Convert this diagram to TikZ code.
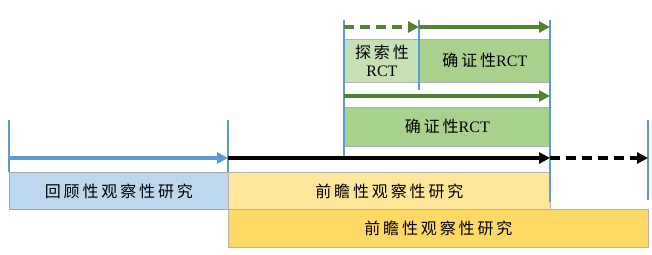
\documentclass[tikz,border=0pt]{standalone}
\usepackage{fontspec}
\setmainfont{Liberation Serif}
\newfontfamily\cjk[LetterSpace=18]{Noto Sans CJK SC}
\usetikzlibrary{arrows.meta}
\definecolor{vline}{HTML}{5B9BD5}
\definecolor{garrow}{HTML}{548235}
\definecolor{gbox}{HTML}{A9D18E}
\definecolor{glight}{HTML}{C5E0B4}
\definecolor{bbox}{HTML}{BDD7EE}
\definecolor{ylight}{HTML}{FFE699}
\definecolor{ydark}{HTML}{FFD966}
\tikzset{
  box/.style={draw=#1, line width=0.8pt, anchor=north west, inner sep=0pt, align=center, font=\fontsize{16}{18}\selectfont},
  vmark/.style={draw=vline, line width=1.8pt},
  garr/.style={draw=garrow, line width=3.5pt, -{Triangle[length=11pt,width=11pt]}},
  barr/.style={draw=vline, line width=3.5pt, -{Triangle[length=11pt,width=11pt]}},
  karr/.style={draw=black, line width=3.5pt, -{Triangle[length=11pt,width=11pt]}},
}
\begin{document}
\begin{tikzpicture}[x=1pt,y=-1pt]
\useasboundingbox (0,0) rectangle (652,254);
% boxes
\node[box=gray!60, fill=glight, minimum width=75pt, minimum height=43pt] (explore) at (344,39) {{\cjk 探索性}\\RCT};
\node[box=gray!60, fill=gbox, minimum width=131pt, minimum height=43pt] (conf1) at (419,39) {{\cjk 确证性}RCT};
\node[box=gray!60, fill=gbox, minimum width=206pt, minimum height=39pt] (conf2) at (344,107) {{\cjk 确证性}RCT};
\node[box=gray!70, fill=bbox, minimum width=219pt, minimum height=37pt] (retro) at (9,172) {\cjk 回顾性观察性研究};
\node[box=gray!60, fill=ylight, minimum width=322pt, minimum height=37pt] (pro1) at (228,172) {\cjk 前瞻性观察性研究};
\node[box=gray!60, fill=ydark, minimum width=420pt, minimum height=38pt] (pro2) at (228,209) {\cjk 前瞻性观察性研究};
% vertical markers
\coordinate (a1) at (9,120);   \coordinate (a2) at (9,172);
\coordinate (b1) at (228,120); \coordinate (b2) at (228,172);
\coordinate (c1) at (344,20);  \coordinate (c2) at (344,158);
\coordinate (d1) at (419,20);  \coordinate (d2) at (419,90);
\coordinate (e1) at (550,20);  \coordinate (e2) at (550,202);
\coordinate (f1) at (648,120); \coordinate (f2) at (648,200);
\foreach \p in {a,b,c,d,e,f} \draw[vmark] (\p1) -- (\p2);
% arrow anchors
\coordinate (g0) at (344,27); \coordinate (g1) at (419,27); \coordinate (g2) at (550,27);
\coordinate (m0) at (344,96); \coordinate (m1) at (550,96);
\coordinate (t0) at (9,158); \coordinate (t1) at (228,158); \coordinate (t2) at (550,158); \coordinate (t3) at (648,158);
\draw[garr, dash pattern=on 10pt off 6pt] (g0) -- (g1);
\draw[garr] (g1) -- (g2);
\draw[garr] (m0) -- (m1);
\draw[barr] (t0) -- (t1);
\draw[karr] (t1) -- (t2);
\draw[karr, dash pattern=on 10pt off 6pt] (t2) -- (t3);
\end{tikzpicture}
\end{document}
